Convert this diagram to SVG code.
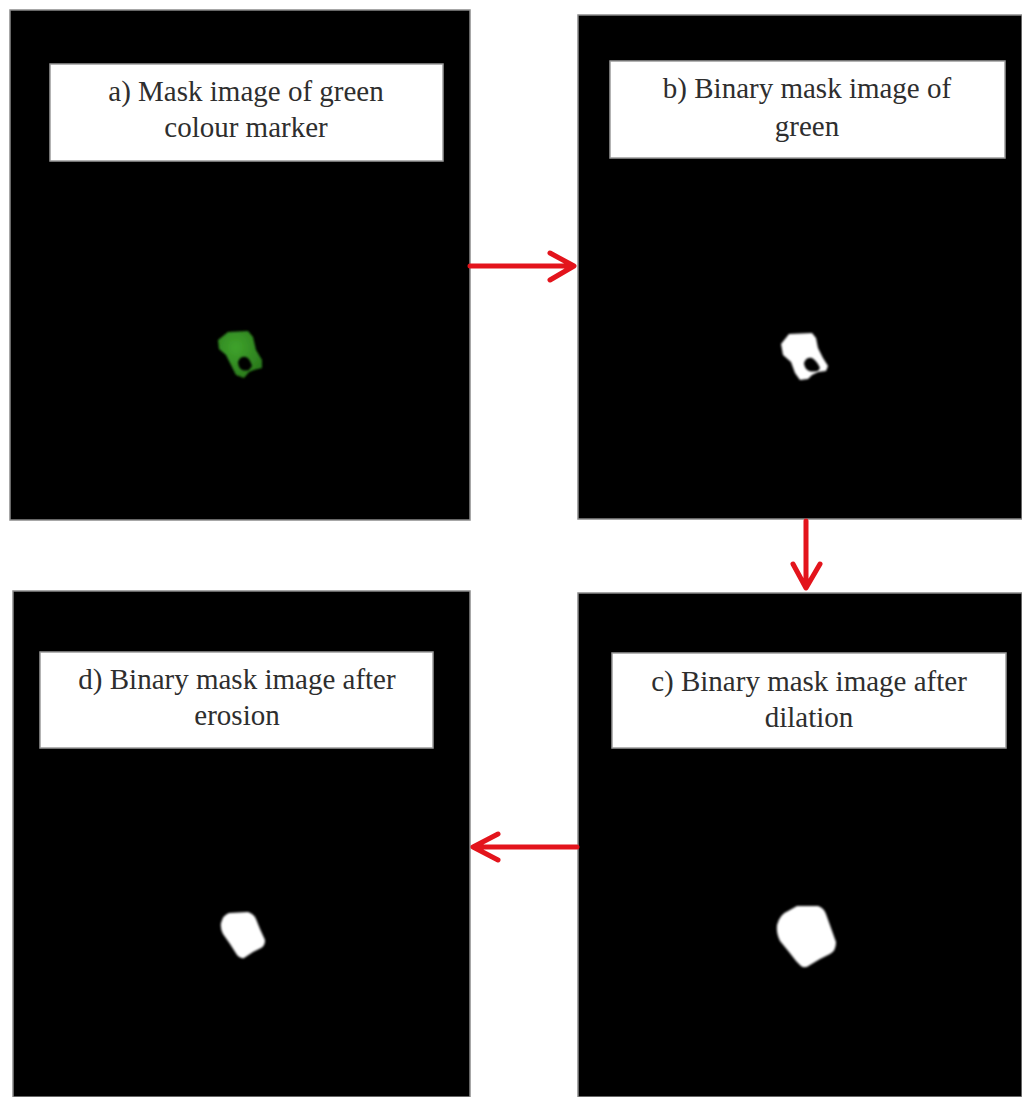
<svg xmlns="http://www.w3.org/2000/svg" width="1022" height="1097" viewBox="0 0 1022 1097">
<style>
.panel{fill:#000;stroke:#8a8a8a;stroke-width:1.5}
.cap{fill:#fff;stroke:#9a9a9a;stroke-width:1.5}
.t{font-family:"Liberation Serif","Times New Roman",serif;font-size:29px;fill:#2e2e2e;text-anchor:middle}
.arr{stroke:#e3141c;stroke-width:5;fill:none;stroke-linecap:round;stroke-linejoin:round}
.w{fill:#fff;filter:url(#soft)}
.hole{fill:#000;filter:url(#soft)}
</style>
<defs>
<filter id="soft" x="-20%" y="-20%" width="140%" height="140%"><feGaussianBlur stdDeviation="1"/></filter>
<radialGradient id="gr" cx="0.4" cy="0.35" r="0.7">
<stop offset="0" stop-color="#3fa32c"/>
<stop offset="1" stop-color="#2a7a1c"/>
</radialGradient>
</defs>
<rect width="1022" height="1097" fill="#fff"/>

<g id="panel-a">
<rect class="panel" x="10" y="10" width="460" height="510"/>
<rect class="cap" x="50" y="64" width="393" height="97"/>
<text class="t" x="246" y="101">a) Mask image of green</text>
<text class="t" x="246" y="137">colour marker</text>
<path d="M218,340 L228,332 L248,331 L253,337 L256,350 L262,360 L262,368 L254,370 L249,372 L244,378 L236,375 L231,365 L226,355 L219,349 Z" fill="url(#gr)" filter="url(#soft)"/>
<path class="hole" d="M238,362 Q240,356 246,357 Q250,359 252,366 L249,370 Q246,371 242,370 Q238,367 238,362 Z"/>
</g>

<g id="panel-b">
<rect class="panel" x="578" y="15" width="444" height="504"/>
<rect class="cap" x="610" y="61" width="395" height="97"/>
<text class="t" x="807" y="98">b) Binary mask image of</text>
<text class="t" x="807" y="136">green</text>
<path class="w" d="M781,344 L789,334 L812,333 L816,338 L818,348 L823,358 L828,366 L826,371 L818,372 L812,375 L808,379 L800,380 L795,373 L791,362 L783,355 Z"/>
<path class="hole" d="M804,363 Q806,357 812,358 Q817,361 820,368 L818,371 Q813,372 809,371 Q804,368 804,363 Z"/>
</g>

<g id="panel-c">
<rect class="panel" x="578" y="593" width="444" height="504"/>
<rect class="cap" x="612" y="653" width="394" height="95"/>
<text class="t" x="809" y="691">c) Binary mask image after</text>
<text class="t" x="809" y="727">dilation</text>
<path class="w" d="M777,925 Q780,914 788,911 L797,906 L818,906 Q824,908 826,914 L831,928 L836,942 Q836,951 830,954 L820,959 L810,965 Q805,969 801,966 L796,961 L789,952 L780,941 Q776,933 777,925 Z"/>
</g>

<g id="panel-d">
<rect class="panel" x="13" y="591" width="457" height="506"/>
<rect class="cap" x="40" y="652" width="393" height="96"/>
<text class="t" x="237" y="689">d) Binary mask image after</text>
<text class="t" x="237" y="725">erosion</text>
<path class="w" d="M221,923 Q223,915 229,913 L248,912 Q254,914 256,919 L260,929 L265,940 Q265,946 261,948 L253,952 L244,958 Q240,959 237,955 L230,944 L223,934 Q220,928 221,923 Z"/>
</g>

<g id="connectors">
<path class="arr" d="M470,266 H573 M550,253 L574,266 L550,280"/>
<path class="arr" d="M806,521 V587 M793,564 L806,588 L820,564"/>
<path class="arr" d="M577,847 H474 M498,834 L473,847 L498,860"/>
</g>
</svg>
